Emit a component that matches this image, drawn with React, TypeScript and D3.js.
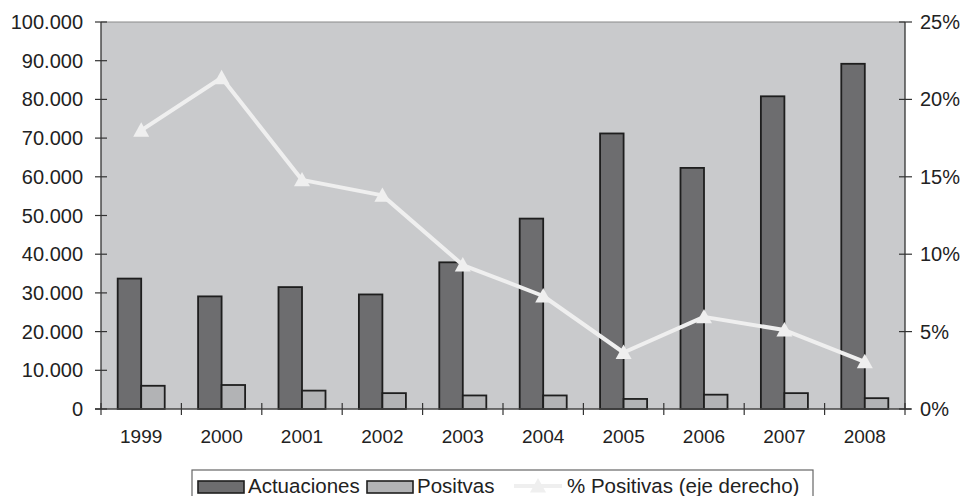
import React from "react";
import * as d3 from "d3";

const years = ["1999","2000","2001","2002","2003","2004","2005","2006","2007","2008"];
const actuaciones = [33700,29100,31500,29600,37900,49200,71200,62300,80800,89200];
const positivas = [6000,6200,4750,4100,3500,3500,2600,3700,4100,2800];
const pctPositivas = [18.0,21.4,14.8,13.8,9.3,7.3,3.65,5.95,5.1,3.05];
const leftTicks = [0,10000,20000,30000,40000,50000,60000,70000,80000,90000,100000];
const rightTicks = [0,5,10,15,20,25];
const seriesNames = ["Actuaciones","Positvas","% Positivas (eje derecho)"];

const W = 965, H = 496;
const L = 101, R = 905, T = 22, B = 409;
const FONT = "'Liberation Sans', Arial, sans-serif";
const DARK = "#6d6d6f", LIGHT = "#b2b3b5", BG = "#c9cacc", EDGE = "#1e1e1e", LINE = "#efefef";

const fmt = (v: number) => v === 0 ? "0" : d3.format(",")(v).replace(/,/g, ".");

function Tri({ cx, cy, s = 8 }: { cx: number; cy: number; s?: number }) {
  const p = `${cx},${cy - s} ${cx + s},${cy + s * 0.8} ${cx - s},${cy + s * 0.8}`;
  return <polygon points={p} fill={LINE} />;
}

export default function App() {
  const x = d3.scaleBand().domain(years).range([L, R]).paddingInner(0).paddingOuter(0);
  const inner = d3.scaleBand().domain(["a", "p"]).range([0, x.bandwidth()]).paddingInner(0).paddingOuter(0.71);
  const y = d3.scaleLinear().domain([0, 100000]).range([B, T]);
  const yr = d3.scaleLinear().domain([0, 25]).range([B, T]);
  const line = d3.line<number>().x((_, i) => (x(years[i]) as number) + x.bandwidth() / 2).y((d) => yr(d));
  const boundaries = years.map((yv) => x(yv) as number).concat([R]);

  return (
    <svg width={W} height={H} style={{ position: "absolute", left: 0, top: 0, background: "#fff" }} fontFamily={FONT}>
      <rect x={L} y={T} width={R - L} height={B - T} fill={BG} />
      <line x1={L} x2={R} y1={T} y2={T} stroke="#8a8a8a" strokeWidth={1.2} />
      {years.map((yv, i) => (
        <g key={yv}>
          <rect x={(x(yv) as number) + (inner("a") as number)} y={y(actuaciones[i])} width={inner.bandwidth()} height={B - y(actuaciones[i])} fill={DARK} stroke={EDGE} strokeWidth={1.8} />
          <rect x={(x(yv) as number) + (inner("p") as number)} y={y(positivas[i])} width={inner.bandwidth()} height={B - y(positivas[i])} fill={LIGHT} stroke={EDGE} strokeWidth={1.8} />
        </g>
      ))}
      <path d={line(pctPositivas) || ""} fill="none" stroke={LINE} strokeWidth={4} strokeLinejoin="round" />
      {pctPositivas.map((p, i) => (
        <Tri key={i} cx={(x(years[i]) as number) + x.bandwidth() / 2} cy={yr(p)} />
      ))}
      <line x1={L} x2={L} y1={T} y2={B} stroke="#333" strokeWidth={1.3} />
      <line x1={R} x2={R} y1={T} y2={B} stroke="#333" strokeWidth={1.3} />
      <line x1={L - 6} x2={R + 6} y1={B} y2={B} stroke="#444" strokeWidth={1.3} />
      {leftTicks.map((t) => (
        <g key={t}>
          <line x1={L - 6} x2={L + 6} y1={y(t)} y2={y(t)} stroke="#333" strokeWidth={1.2} />
          <text x={83} y={y(t) + 7} textAnchor="end" fontSize={20} fill="#222">{fmt(t)}</text>
        </g>
      ))}
      {rightTicks.map((t) => (
        <g key={t}>
          <line x1={R - 6} x2={R + 7} y1={yr(t)} y2={yr(t)} stroke="#333" strokeWidth={1.2} />
          <text x={920} y={yr(t) + 7} textAnchor="start" fontSize={20} fill="#222">{t}%</text>
        </g>
      ))}
      {boundaries.map((bx, i) => (
        <line key={i} x1={bx} x2={bx} y1={B - 6} y2={B + 6} stroke="#333" strokeWidth={1.2} />
      ))}
      {years.map((yv) => (
        <text key={yv} x={(x(yv) as number) + x.bandwidth() / 2} y={443} textAnchor="middle" fontSize={19} fill="#222">{yv}</text>
      ))}
      <rect x={192} y={470} width={621} height={40} fill="#fff" stroke="#666" strokeWidth={1.2} />
      <rect x={198} y={481} width={46} height={12} fill={DARK} stroke={EDGE} strokeWidth={1.6} />
      <text x={248} y={493} fontSize={20.5} fill="#222">{seriesNames[0]}</text>
      <rect x={367} y={481} width={46} height={12} fill={LIGHT} stroke={EDGE} strokeWidth={1.6} />
      <text x={417} y={493} fontSize={20.5} fill="#222">{seriesNames[1]}</text>
      <line x1={514} x2={562} y1={486} y2={486} stroke={LINE} strokeWidth={4} />
      <Tri cx={538} cy={486} />
      <text x={567} y={493} fontSize={20.5} fill="#222">{seriesNames[2]}</text>
    </svg>
  );
}
